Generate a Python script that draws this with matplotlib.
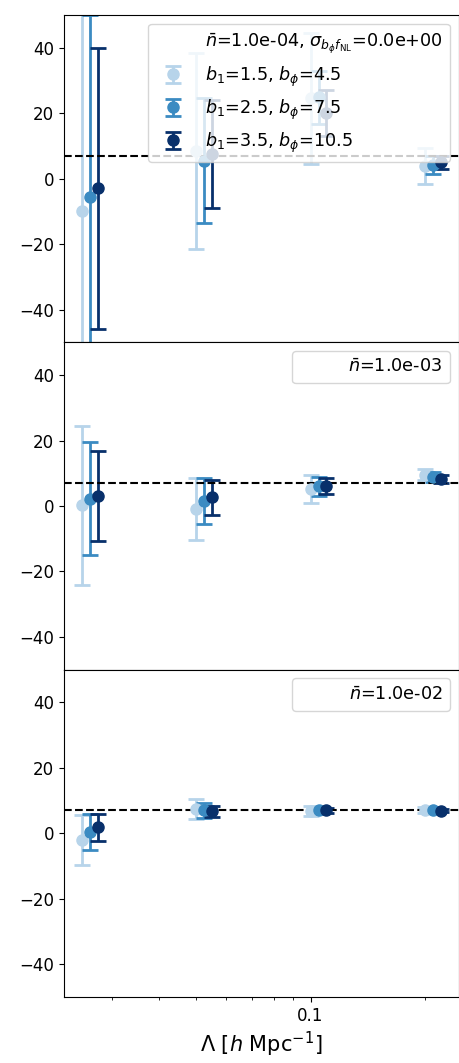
import numpy as np
import matplotlib.pyplot as plt
from matplotlib.ticker import FormatStrFormatter, NullFormatter

# cutoff scales and bias pairs
lambdas = np.array([0.025, 0.05, 0.1, 0.2])
b1_vals = [1.5, 2.5, 3.5]
bphi_vals = [4.5, 7.5, 10.5]
nbar_vals = ['1.0e-04', '1.0e-03', '1.0e-02']
fnl_fid = 7.0

# recovered f_NL per panel (rows: b1, cols: Lambda)
fnl_n4 = [[-10.0, 8.4, 24.5, 3.8],
          [-5.5, 5.5, 24.8, 4.2],
          [-3.0, 7.5, 20.0, 5.0]]
err_n4 = [[70.0, 30.0, 20.0, 5.5],
          [55.5, 19.0, 8.0, 2.8],
          [43.0, 16.5, 7.0, 2.0]]

fnl_n3 = [[0.2, -1.0, 5.3, 9.6],
          [2.2, 1.6, 6.0, 8.8],
          [3.0, 2.65, 6.2, 8.3]]
err_n3 = [[24.3, 9.5, 4.3, 1.8],
          [17.3, 7.0, 3.0, 1.5],
          [13.7, 5.35, 2.4, 1.2]]

fnl_n2 = [[-2.15, 7.4, 6.7, 7.0],
          [0.4, 7.0, 7.0, 7.0],
          [1.8, 6.7, 7.0, 6.9]]
err_n2 = [[7.65, 3.0, 1.5, 0.9],
          [5.6, 2.3, 1.0, 0.6],
          [4.2, 1.7, 0.7, 0.4]]

fnl_all = [fnl_n4, fnl_n3, fnl_n2]
err_all = [err_n4, err_n3, err_n2]

colors = plt.cm.Blues(np.linspace(0.3, 1.0, 3))

fig, axes = plt.subplots(3, 1, figsize=(4.59, 10.63), dpi=100)
fig.subplots_adjust(left=64/459, right=458.5/459, top=1-15/1063,
                    bottom=1-997/1063, hspace=0)

for p, ax in enumerate(axes):
    if p == 0:
        lab0 = r'$\bar{n}$=' + nbar_vals[p] + r', $\sigma_{b_\phi f_{\rm NL}}$=0.0e+00'
    else:
        lab0 = r'$\bar{n}$=' + nbar_vals[p]
    ax.plot([], [], ' ', label=lab0)
    for i in range(3):
        ax.errorbar(lambdas * (1 + 0.05 * i), fnl_all[p][i], yerr=err_all[p][i],
                    fmt='o', color=colors[i], ms=8, elinewidth=2,
                    capsize=6, capthick=2,
                    label=r'$b_1$=%g, $b_\phi$=%g' % (b1_vals[i], bphi_vals[i]))
    ax.axhline(fnl_fid, color='k', ls='--', lw=1.5)
    ax.set_xscale('log')
    ax.set_ylim(-50, 50)
    ax.set_yticks([-40, -20, 0, 20, 40])
    ax.tick_params(labelsize=12)
    ax.set_ylabel(r'$f_{\rm NL}$', fontsize=14, labelpad=12)
    if p == 0:
        ax.legend(loc='upper right', fontsize=12.7)
    else:
        h, l = ax.get_legend_handles_labels()
        ax.legend(h[:1], l[:1], loc='upper right', fontsize=12.7)

for ax in axes[:2]:
    ax.set_xlim(axes[2].get_xlim())
    ax.tick_params(axis='x', which='both', bottom=False, labelbottom=False)

axes[2].xaxis.set_major_formatter(FormatStrFormatter('%g'))
axes[2].xaxis.set_minor_formatter(NullFormatter())
axes[2].set_xlabel(r'$\Lambda$ [$h$ Mpc$^{-1}$]', fontsize=15)

plt.savefig('out.png', dpi=100)
